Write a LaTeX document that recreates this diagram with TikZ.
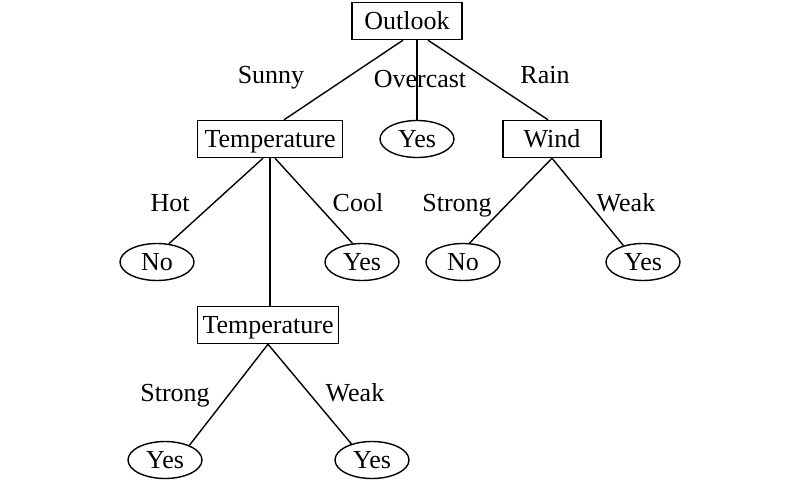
\documentclass[tikz,border=0pt]{standalone}
\usepackage{fontspec}
\setmainfont{Liberation Serif}
\usetikzlibrary{shapes.geometric}
\begin{document}
\begin{tikzpicture}[x=1pt,y=-1pt,line width=1.4pt,font=\fontsize{26}{30}\selectfont,
    every node/.style={text height=18.5pt,text depth=1pt},
    attrbox/.style={draw,rectangle,minimum height=37pt,inner sep=2pt},
    leafnode/.style={draw,ellipse,minimum width=74pt,minimum height=37pt,inner sep=1pt},
    branch/.style={inner sep=0pt}]
    \useasboundingbox (0,0) rectangle (800,482);
    % decision nodes
    \node [attrbox,minimum width=110pt] (outlook) at (407,21) {Outlook};
    \node [attrbox,minimum width=145pt] (temp1) at (270,139) {Temperature};
    \node [attrbox,minimum width=98pt] (wind) at (552,139) {Wind};
    \node [attrbox,minimum width=141pt] (temp2) at (268,325) {Temperature};
    % leaves
    \node [leafnode] (yes1) at (417,139) {Yes};
    \node [leafnode] (no1) at (157,262) {No};
    \node [leafnode] (yes2) at (362,262) {Yes};
    \node [leafnode] (no2) at (463,262) {No};
    \node [leafnode] (yes3) at (643,262) {Yes};
    \node [leafnode] (yes4) at (165,460) {Yes};
    \node [leafnode] (yes5) at (372,460) {Yes};
    % branch labels
    \node [branch] (sunny) at (271,75) {Sunny};
    \node [branch] (overcast) at (420,79) {Overcast};
    \node [branch] (rain) at (545,75) {Rain};
    \node [branch] (hot) at (170,203) {Hot};
    \node [branch] (cool) at (358,203) {Cool};
    \node [branch] (strongA) at (457,203) {Strong};
    \node [branch] (weakA) at (626,203) {Weak};
    \node [branch] (strongB) at (175,393) {Strong};
    \node [branch] (weakB) at (355,393) {Weak};
    % edges
    \draw ([xshift=-4pt]outlook.south) -- ([xshift=14pt]temp1.north);
    \draw ([xshift=10pt]outlook.south) -- (yes1.north);
    \draw ([xshift=21pt]outlook.south) -- ([xshift=-4pt]wind.north);
    \draw ([xshift=-7pt]temp1.south) -- (no1.57);
    \draw (temp1.south) -- (temp1.south |- temp2.north);
    \draw ([xshift=5pt]temp1.south) -- (yes2.117);
    \draw (temp2.south) -- (yes4.31);
    \draw (temp2.south) -- (yes5.142);
    \draw (wind.south) -- (no2.71);
    \draw (wind.south) -- (yes3.140);
\end{tikzpicture}
\end{document}
